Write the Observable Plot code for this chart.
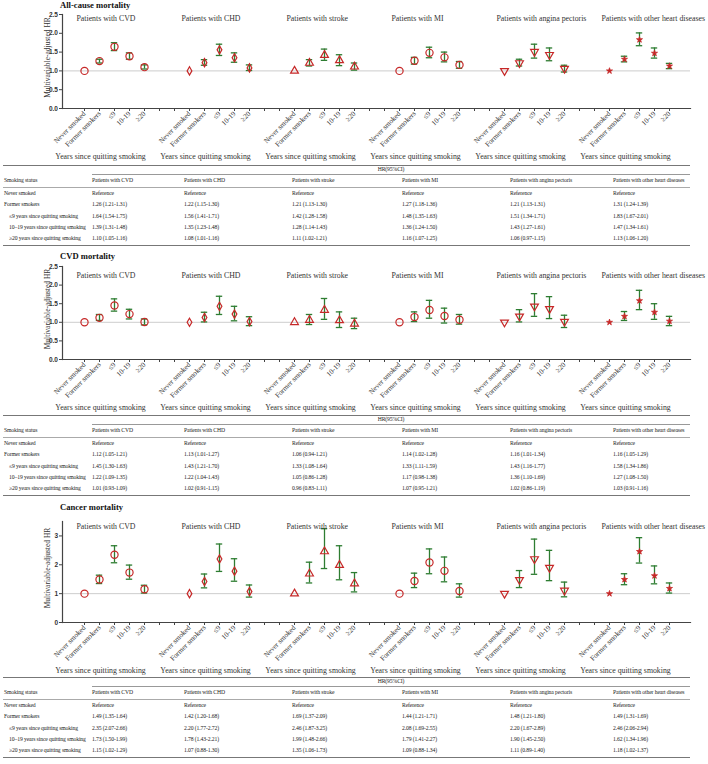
<!DOCTYPE html>
<html><head><meta charset="utf-8">
<script src="https://cdn.jsdelivr.net/npm/d3@7"></script>
<script src="https://cdn.jsdelivr.net/npm/@observablehq/plot@0.6"></script>
<style>
html,body{margin:0;padding:0;background:#fff;}
#root{position:relative;width:708px;height:764px;overflow:hidden;}
.sec{position:absolute;left:60px;font:bold 8.6px "Liberation Serif",serif;color:#111;white-space:nowrap;}
.plot{position:absolute;left:0;width:708px;}
.plot svg{display:block;overflow:visible;}
table.hr{position:absolute;left:3px;width:687px;border-collapse:collapse;table-layout:fixed;font:5.7px "Liberation Serif",serif;letter-spacing:-0.12px;color:#222;}
table.hr td{padding:0;white-space:nowrap;overflow:visible;line-height:1;vertical-align:middle;}
table.hr tr.r0 td{height:8px;border-top:1.5px solid #777;}
table.hr tr.r0 td.span{border-bottom:1px solid #999;text-align:center;}
table.hr tr.r1 td{height:12px;border-bottom:0.8px solid #aaa;}
table.hr tr.rb td{height:11.4px;}
table.hr tr.last td{border-bottom:1.5px solid #777;}
table.hr td.lab{padding-left:1px;}
table.hr td.ind{padding-left:6px;}
</style>
</head><body><div id="root"></div>
<script>
// ---------- data ----------
const groupKeys = ["CVD","CHD","stroke","MI","angina","other"];
const groupTitles = ["Patients with CVD","Patients with CHD","Patients with stroke","Patients with MI","Patients with angina pectoris","Patients with other heart diseases"];
const categories = ["Never smoked","Former smokers","≤9","10-19","≥20"];
const rowLabels = ["Never smoked","Former smokers","≤9 years since quitting smoking","10–19 years since quitting smoking","≥20 years since quitting smoking"];
const gapSlots = ["gap-a","gap-b"];
const xAxisTitle = "Years since quitting smoking";
const yAxisTitle = "Multivariable-adjusted HR";
const panelTitles = ["All-cause mortality","CVD mortality","Cancer mortality"];
const referenceText = "Reference";

// HR per group: [Former, ≤9, 10-19, ≥20]
const allCauseHR = [[1.26,1.64,1.39,1.10],[1.22,1.56,1.35,1.08],[1.21,1.42,1.28,1.11],[1.27,1.48,1.36,1.16],[1.21,1.51,1.43,1.06],[1.31,1.83,1.47,1.13]];
const allCauseLo = [[1.21,1.54,1.31,1.05],[1.15,1.41,1.23,1.01],[1.13,1.28,1.14,1.02],[1.18,1.35,1.24,1.07],[1.13,1.34,1.27,0.97],[1.24,1.67,1.34,1.06]];
const allCauseHi = [[1.31,1.75,1.48,1.16],[1.30,1.71,1.48,1.16],[1.30,1.58,1.43,1.21],[1.36,1.63,1.50,1.25],[1.31,1.71,1.61,1.15],[1.39,2.01,1.61,1.20]];

const cvdHR = [[1.12,1.45,1.22,1.01],[1.13,1.43,1.22,1.02],[1.06,1.33,1.05,0.96],[1.14,1.33,1.17,1.07],[1.16,1.43,1.36,1.02],[1.16,1.58,1.27,1.03]];
const cvdLo = [[1.05,1.30,1.09,0.93],[1.01,1.21,1.04,0.91],[0.94,1.08,0.86,0.83],[1.02,1.11,0.98,0.95],[1.01,1.16,1.10,0.86],[1.05,1.34,1.08,0.91]];
const cvdHi = [[1.21,1.63,1.35,1.09],[1.27,1.70,1.43,1.15],[1.21,1.64,1.28,1.11],[1.28,1.59,1.38,1.21],[1.34,1.77,1.69,1.19],[1.29,1.86,1.50,1.16]];

const cancerHR = [[1.49,2.35,1.73,1.15],[1.42,2.20,1.78,1.07],[1.69,2.46,1.99,1.35],[1.44,2.08,1.79,1.09],[1.48,2.20,1.90,1.11],[1.49,2.46,1.62,1.18]];
const cancerLo = [[1.35,2.07,1.50,1.02],[1.20,1.77,1.43,0.88],[1.37,1.87,1.48,1.06],[1.21,1.69,1.41,0.88],[1.21,1.67,1.45,0.89],[1.31,2.06,1.34,1.02]];
const cancerHi = [[1.64,2.66,1.99,1.29],[1.68,2.72,2.21,1.30],[2.09,3.25,2.66,1.73],[1.71,2.55,2.27,1.34],[1.80,2.89,2.50,1.40],[1.69,2.94,1.96,1.37]];

const yTicksA = [0,0.5,1,1.5,2,2.5];
const yTicksC = [0,1,2,3];

// ---------- styling ----------
const RED = "#c62828", GREEN = "#2e7d32", AXIS = "#444";
const invTriangle = {draw(ctx, size){const s3=Math.sqrt(3);const y=-Math.sqrt(size/(s3*3));ctx.moveTo(0,-y*2);ctx.lineTo(-s3*y,y);ctx.lineTo(s3*y,y);ctx.closePath();}};
const groupSymbols = ["circle","diamond","triangle","circle",invTriangle,"star"];
const groupSymbolR = [3.6, 2.5, 2.9, 3.6, 2.9, 1.9];

const slotKey = (g,c) => g + "|" + c;
const slots = [];
groupKeys.forEach((g,i) => {
  categories.forEach(c => slots.push(slotKey(g,c)));
  if (i < groupKeys.length-1) gapSlots.forEach(s => slots.push(slotKey(g,s)));
});
const slotLabel = k => { const c = k.split("|")[1]; return categories.includes(c) ? c : ""; };

const root = document.getElementById("root");

function addTitle(text, top){
  const d = document.createElement("div"); d.className="sec"; d.style.top = top+"px"; d.textContent = text; root.appendChild(d);
}

function addPanel({hr, lo, hi, yDomain, yTicks, yFormat, top, marginTop, plotH, titleDy}){
  const rows = [];
  groupKeys.forEach((g,gi) => {
    rows.push({key: slotKey(g,categories[0]), g: gi, hr: 1, ref: true});
    for (let j=0;j<4;j++) rows.push({key: slotKey(g,categories[j+1]), g: gi, hr: hr[gi][j], lo: lo[gi][j], hi: hi[gi][j], ref:false});
  });
  const bars = rows.filter(d => !d.ref);
  const marginBottom = 56;
  const marks = [
    Plot.ruleY([1], {stroke: "#cdcdcd", strokeWidth: 1}),
    Plot.ruleX(bars, {x: "key", y1: "lo", y2: "hi", stroke: GREEN, strokeWidth: 1.3}),
    Plot.ruleY(bars, {x1: "key", x2: "key", y: "lo", stroke: GREEN, strokeWidth: 1.3, insetLeft: -3.2, insetRight: -3.2}),
    Plot.ruleY(bars, {x1: "key", x2: "key", y: "hi", stroke: GREEN, strokeWidth: 1.3, insetLeft: -3.2, insetRight: -3.2}),
  ];
  groupKeys.forEach((g,gi) => {
    const filled = gi === 5;
    marks.push(Plot.dot(rows.filter(d => d.g === gi), {x: "key", y: "hr", symbol: groupSymbols[gi], r: groupSymbolR[gi], stroke: RED, fill: filled ? RED : "none", strokeWidth: filled ? 0.8 : 1.2}));
  });
  marks.push(
    Plot.frame({anchor: "left", stroke: AXIS, strokeWidth: 1.2}),
    Plot.frame({anchor: "bottom", stroke: AXIS, strokeWidth: 1.2}),
    Plot.axisY({ticks: yTicks, tickFormat: yFormat, tickSize: 3, tickPadding: 1.5, fontSize: 6.5, fontFamily: "Liberation Sans, Arial, sans-serif", fontWeight: "bold", label: null, stroke: AXIS}),
    Plot.axisX({ticks: slots, tickFormat: slotLabel, tickRotate: -45, tickSize: 3, tickPadding: 1, fontSize: 7.2, label: null, stroke: AXIS}),
    Plot.text(groupTitles, {x: (d,i) => slotKey(groupKeys[i], categories[0]), text: d => d, frameAnchor: "top", textAnchor: "start", dx: -8, dy: titleDy, fontSize: 7.8, fill: "#333"}),
    Plot.text(groupKeys, {x: g => slotKey(g, categories[2]), text: () => xAxisTitle, frameAnchor: "bottom", dx: -14, dy: 50, fontSize: 7.8, fill: "#333"}),
    Plot.text([yAxisTitle], {text: d => d, frameAnchor: "left", textAnchor: "middle", lineAnchor: "middle", rotate: -90, dx: -15, dy: -4, fontSize: 7.5, fill: "#333"})
  );
  const chart = Plot.plot({
    width: 708, height: marginTop + plotH + marginBottom,
    marginLeft: 62, marginRight: 18, marginTop, marginBottom,
    style: {fontFamily: "Liberation Serif, Times New Roman, serif", fontSize: "7px", color: "#333", background: "transparent"},
    x: {type: "point", domain: slots, padding: 0.7},
    y: {domain: yDomain},
    marks
  });
  const wrap = document.createElement("div"); wrap.className = "plot"; wrap.style.top = top + "px";
  wrap.appendChild(chart); root.appendChild(wrap);
}

function fmt(h,l,u){ return `${h.toFixed(2)} (${l.toFixed(2)}-${u.toFixed(2)})`; }

function addTable({hr, lo, hi, top}){
  const t = document.createElement("table"); t.className = "hr"; t.style.top = top + "px";
  const widths = [89,92,108,110,108,103,77];
  const cg = document.createElement("colgroup");
  widths.forEach(w => { const c = document.createElement("col"); c.style.width = w+"px"; cg.appendChild(c); });
  t.appendChild(cg);
  const tb = document.createElement("tbody");
  let tr = document.createElement("tr"); tr.className = "r0";
  let td = document.createElement("td"); tr.appendChild(td);
  td = document.createElement("td"); td.colSpan = 6; td.className = "span"; td.textContent = "HR(95%CI)"; tr.appendChild(td);
  tb.appendChild(tr);
  tr = document.createElement("tr"); tr.className = "r1";
  ["Smoking status", ...groupTitles].forEach((s,i) => { const c = document.createElement("td"); c.textContent = s; if(i===0) c.className="lab"; tr.appendChild(c); });
  tb.appendChild(tr);
  rowLabels.forEach((lab, r) => {
    const row = document.createElement("tr"); row.className = "rb" + (r === rowLabels.length-1 ? " last" : "");
    const c0 = document.createElement("td"); c0.textContent = lab; c0.className = r >= 2 ? "ind" : "lab"; row.appendChild(c0);
    groupKeys.forEach((g,gi) => {
      const c = document.createElement("td");
      c.textContent = r === 0 ? referenceText : fmt(hr[gi][r-1], lo[gi][r-1], hi[gi][r-1]);
      row.appendChild(c);
    });
    tb.appendChild(row);
  });
  t.appendChild(tb); root.appendChild(t);
}

const f1 = d3.format(".1f"), f0 = d3.format("d");

addTitle(panelTitles[0], 0);
addPanel({hr: allCauseHR, lo: allCauseLo, hi: allCauseHi, yDomain: [0,2.5], yTicks: yTicksA, yFormat: f1, top: 8, marginTop: 6, plotH: 94, titleDy: 1});
addTable({hr: allCauseHR, lo: allCauseLo, hi: allCauseHi, top: 165});

addTitle(panelTitles[1], 251);
addPanel({hr: cvdHR, lo: cvdLo, hi: cvdHi, yDomain: [0,2.5], yTicks: yTicksA, yFormat: f1, top: 260, marginTop: 6, plotH: 93, titleDy: 6});
addTable({hr: cvdHR, lo: cvdLo, hi: cvdHi, top: 415});

addTitle(panelTitles[2], 502);
addPanel({hr: cancerHR, lo: cancerLo, hi: cancerHi, yDomain: [0,3.5], yTicks: yTicksC, yFormat: f0, top: 514, marginTop: 7, plotH: 101, titleDy: 2});
addTable({hr: cancerHR, lo: cancerLo, hi: cancerHi, top: 677});
</script>
</body></html>
